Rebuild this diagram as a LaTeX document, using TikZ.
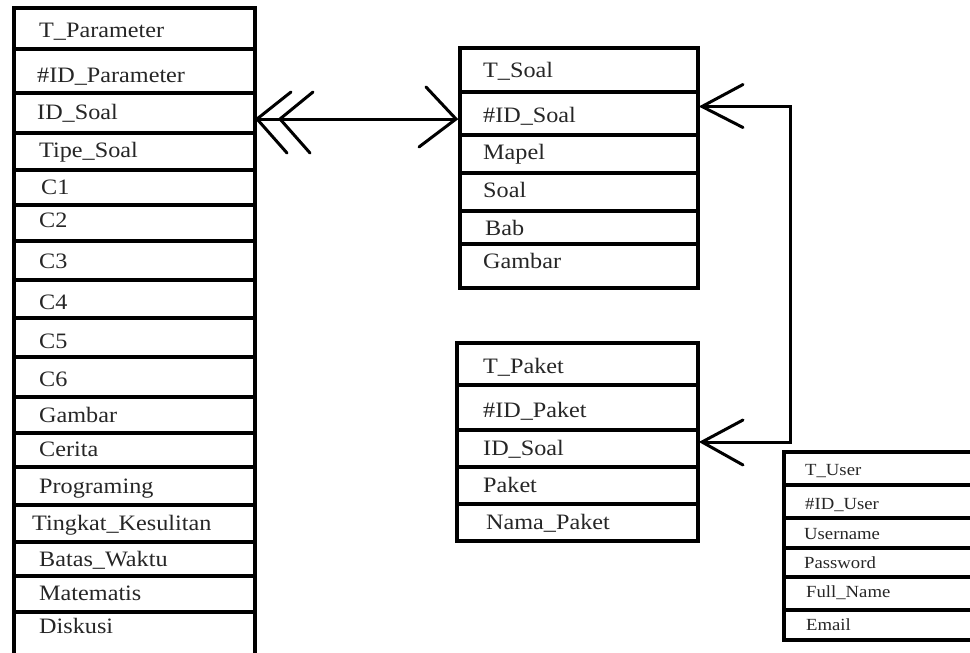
\documentclass[tikz,border=0pt]{standalone}
\usepackage{fontspec}
\setmainfont[FakeStretch=1.1]{Liberation Serif}
\tikzset{
  cell/.style={draw=black, line width=3.4pt, rectangle, inner sep=0pt, outer sep=0pt, anchor=north west},
  txt/.style={anchor=base west, inner sep=0pt, text=black!85, font=\fontsize{22}{26}\selectfont},
  utxt/.style={anchor=base west, inner sep=0pt, text=black!85, font=\fontsize{17}{20}\selectfont},
  conn/.style={draw=black, line width=3pt},
  foot/.style={draw=black, line width=3pt, line cap=round}
}
% name, x, ytop, ybottom, width
\newcommand\erow[5]{\node[cell, minimum width=#5pt, minimum height={#4pt-#3pt}] (#1) at (#2,#3) {};}
\begin{document}
\begin{tikzpicture}[x=1pt,y=-1pt]
\useasboundingbox (0,0) rectangle (970,653);
% ---------------- T_Parameter
\erow{p0}{14}{8}{49}{241}
\erow{p1}{14}{49}{93}{241}
\erow{p2}{14}{93}{133}{241}
\erow{p3}{14}{133}{170}{241}
\erow{p4}{14}{170}{205}{241}
\erow{p5}{14}{205}{241}{241}
\erow{p6}{14}{241}{280}{241}
\erow{p7}{14}{280}{318}{241}
\erow{p8}{14}{318}{357}{241}
\erow{p9}{14}{357}{397}{241}
\erow{p10}{14}{397}{433}{241}
\erow{p11}{14}{433}{467}{241}
\erow{p12}{14}{467}{505}{241}
\erow{p13}{14}{505}{542}{241}
\erow{p14}{14}{542}{576}{241}
\erow{p15}{14}{576}{612}{241}
\erow{p16}{14}{612}{668}{241}
\node[txt] (tp0) at (39,37) {T\_Parameter};
\node[txt] (tp1) at (37,82) {\#ID\_Parameter};
\node[txt] (tp2) at (37,119) {ID\_Soal};
\node[txt] (tp3) at (39,157) {Tipe\_Soal};
\node[txt] (tp4) at (41,194) {C1};
\node[txt] (tp5) at (39,227) {C2};
\node[txt] (tp6) at (39,268) {C3};
\node[txt] (tp7) at (39,309) {C4};
\node[txt] (tp8) at (39,348) {C5};
\node[txt] (tp9) at (39,386) {C6};
\node[txt] (tp10) at (39,422) {Gambar};
\node[txt] (tp11) at (39,456) {Cerita};
\node[txt] (tp12) at (39,493) {Programing};
\node[txt] (tp13) at (32,530) {Tingkat\_Kesulitan};
\node[txt] (tp14) at (39,566) {Batas\_Waktu};
\node[txt] (tp15) at (39,600) {Matematis};
\node[txt] (tp16) at (39,633) {Diskusi};
% ---------------- T_Soal
\erow{s0}{460}{48}{92}{238}
\erow{s1}{460}{92}{135}{238}
\erow{s2}{460}{135}{173}{238}
\erow{s3}{460}{173}{211}{238}
\erow{s4}{460}{211}{244}{238}
\erow{s5}{460}{244}{288}{238}
\node[txt] (ts0) at (483,77) {T\_Soal};
\node[txt] (ts1) at (483,122) {\#ID\_Soal};
\node[txt] (ts2) at (483,159) {Mapel};
\node[txt] (ts3) at (483,197) {Soal};
\node[txt] (ts4) at (485,235) {Bab};
\node[txt] (ts5) at (483,268) {Gambar};
% ---------------- T_Paket
\erow{k0}{457}{343}{385}{241}
\erow{k1}{457}{385}{430}{241}
\erow{k2}{457}{430}{467}{241}
\erow{k3}{457}{467}{504}{241}
\erow{k4}{457}{504}{541}{241}
\node[txt] (tk0) at (483,373) {T\_Paket};
\node[txt] (tk1) at (483,417) {\#ID\_Paket};
\node[txt] (tk2) at (483,455) {ID\_Soal};
\node[txt] (tk3) at (483,492) {Paket};
\node[txt] (tk4) at (486,529) {Nama\_Paket};
% ---------------- T_User (runs past the right edge)
\erow{u0}{784}{452}{485}{200}
\erow{u1}{784}{485}{518}{200}
\erow{u2}{784}{518}{548}{200}
\erow{u3}{784}{548}{577}{200}
\erow{u4}{784}{577}{610}{200}
\erow{u5}{784}{610}{640}{200}
\node[utxt] (tu0) at (805,475) {T\_User};
\node[utxt] (tu1) at (805,509) {\#ID\_User};
\node[utxt] (tu2) at (804,539) {Username};
\node[utxt] (tu3) at (804,568) {Password};
\node[utxt] (tu4) at (806,597) {Full\_Name};
\node[utxt] (tu5) at (806,630) {Email};
% ---------------- connector T_Parameter.ID_Soal -- T_Soal.#ID_Soal
\coordinate (a1) at ([yshift=-6pt,xshift=2pt]p2.east);
\coordinate (a2) at ([yshift=-5.5pt,xshift=-4pt]s1.west);
\draw[conn] (a1) -- (a2);
\draw[foot] (a1) ++(34,-27) -- (a1) -- ++(30,34);
\draw[foot] (a1) ++(56,-27) -- ++(-33,27) -- ++(30,34);
\draw[foot] (a2) ++(-30,-32) -- (a2) -- ++(-37,28);
% ---------------- connector T_Soal.#ID_Soal -- T_Paket.ID_Soal
\coordinate (b1) at ([yshift=7pt,xshift=4pt]s1.east);
\coordinate (b2) at ([yshift=6.5pt,xshift=4pt]k2.east);
\draw[conn] (b1) -- ++(88,0) |- (b2);
\draw[foot] (b1) ++(41,-22) -- (b1) -- ++(41,21);
\draw[foot] (b2) ++(41,-22) -- (b2) -- ++(41,23);
\end{tikzpicture}
\end{document}
